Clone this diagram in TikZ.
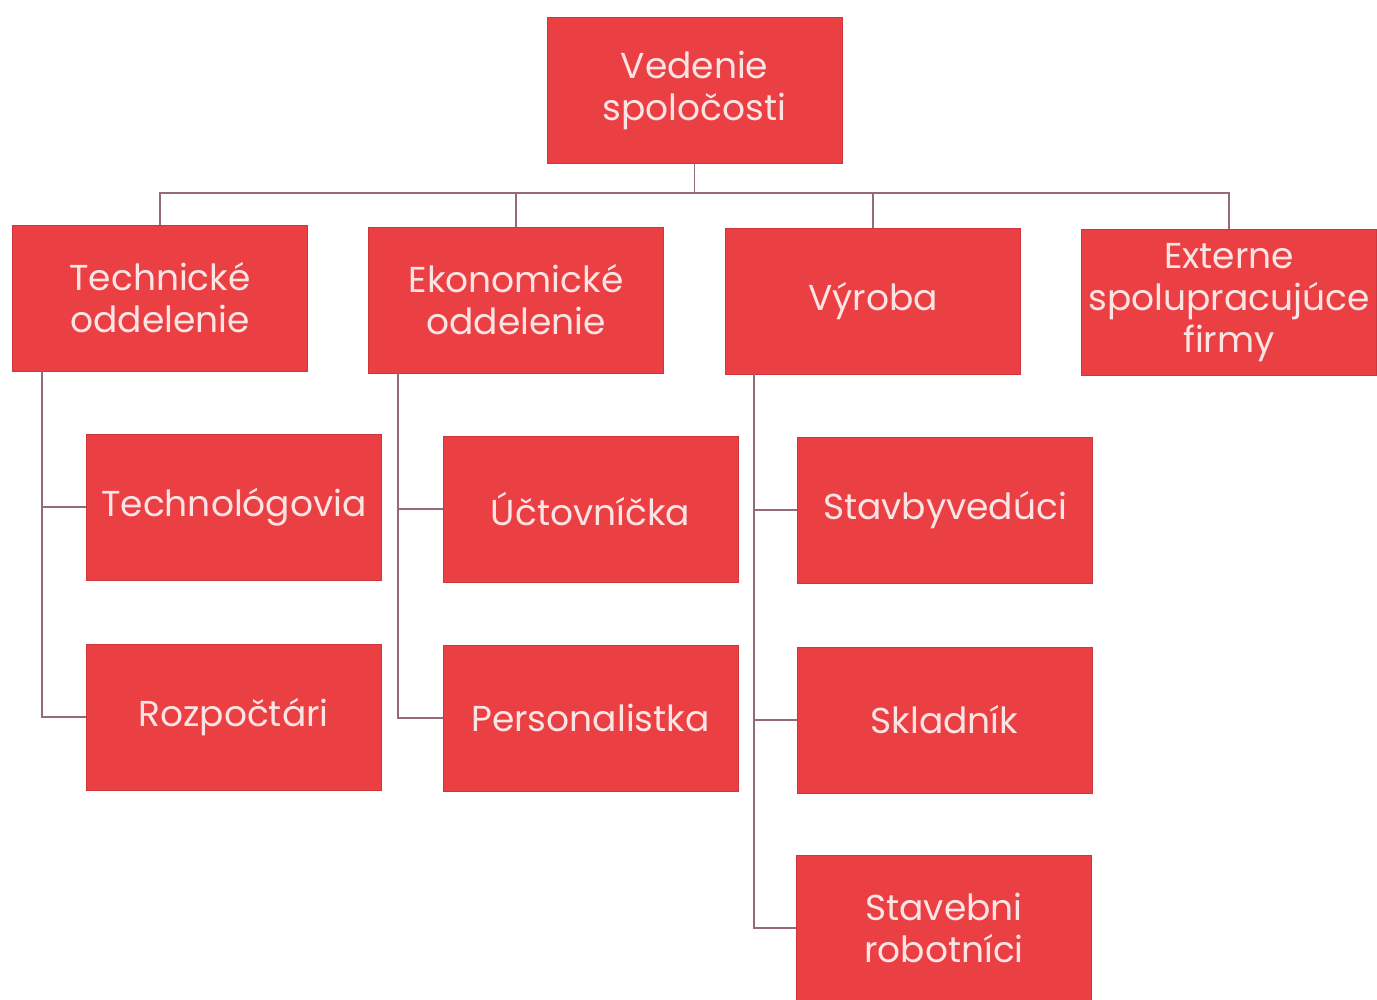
\documentclass[tikz,border=0pt]{standalone}
\usepackage{fontspec}
\setmainfont{Poppins}
\definecolor{boxred}{RGB}{234,64,68}
\definecolor{boxedge}{RGB}{205,55,60}
\definecolor{conncol}{RGB}{150,105,125}
\definecolor{txtcol}{RGB}{252,228,228}
\begin{document}
\begin{tikzpicture}[x=1pt,y=-1pt,
  orgbox/.style={draw=boxedge,line width=0.8pt,fill=boxred,minimum width=295pt,minimum height=146pt,
    text=txtcol,align=center,inner sep=1pt,font=\fontsize{36}{42}\selectfont},
  conn/.style={draw=conncol,line width=1.5pt}]
\useasboundingbox (0,0) rectangle (1377,1000);
\fill[white] (0,0) rectangle (1377,1000);
\node[orgbox] (top) at (694.5,90) {Vedenie\\spoločosti};
\node[orgbox] (tech) at (160,298) {Technické\\oddelenie};
\node[orgbox] (ekon) at (516,300) {Ekonomické\\oddelenie};
\node[orgbox] (vyr) at (873,301) {Výroba};
\node[orgbox] (ext) at (1229,302.5) {Externe\\spolupracujúce\\firmy};
\node[orgbox] (tgl) at (234,507) {Technológovia};
\node[orgbox] (roz) at (233.5,717) {Rozpočtári};
\node[orgbox] (uct) at (590.5,509) {Účtovníčka};
\node[orgbox] (per) at (590.5,718) {Personalistka};
\node[orgbox] (stv) at (945,510) {Stavbyvedúci};
\node[orgbox] (skl) at (944.5,720) {Skladník};
\node[orgbox] (rob) at (944,928) {Stavebni\\robotníci};
\coordinate (bus) at (694.5,193);
\draw[conn] (top.south) -- (bus);
\draw[conn] (bus) -| (tech.north);
\draw[conn] (bus) -| (ekon.north);
\draw[conn] (bus) -| (vyr.north);
\draw[conn] (bus) -| (ext.north);
\draw[conn] ([xshift=30pt]tech.south west) |- (tgl.west);
\draw[conn] ([xshift=30pt]tech.south west) |- (roz.west);
\draw[conn] ([xshift=30pt]ekon.south west) |- (uct.west);
\draw[conn] ([xshift=30pt]ekon.south west) |- (per.west);
\draw[conn] ([xshift=29pt]vyr.south west) |- (stv.west);
\draw[conn] ([xshift=29pt]vyr.south west) |- (skl.west);
\draw[conn] ([xshift=29pt]vyr.south west) |- (rob.west);
\end{tikzpicture}
\end{document}
